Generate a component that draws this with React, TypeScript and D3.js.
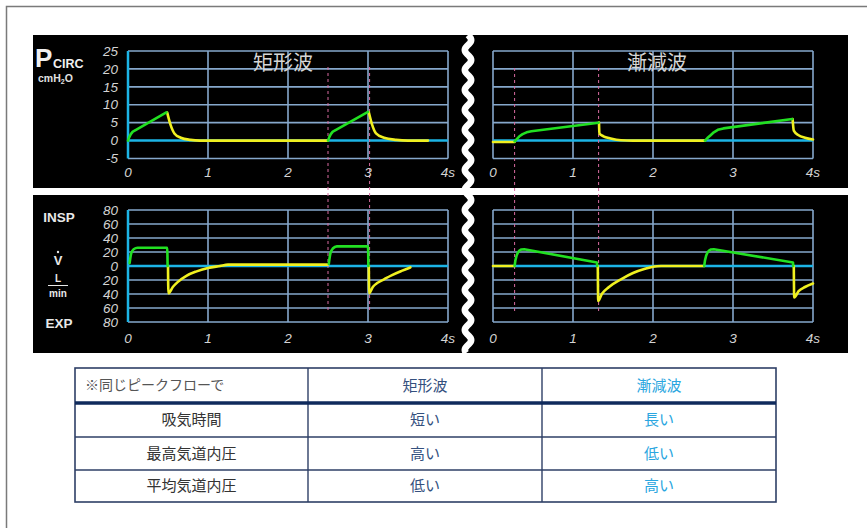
import React from "react";
import * as d3 from "d3";

// ---- data ----
const timeTicks = [0, 1, 2, 3, 4];
const timeTickLabels = ["0", "1", "2", "3", "4s"];
const pressureTicks = [25, 20, 15, 10, 5, 0, -5];
const flowTicks = [80, 60, 40, 20, 0, -20, -40, -60, -80];
const flowTickLabels = ["80", "60", "40", "20", "0", "20", "40", "60", "80"];

const panelTitles = ["矩形波", "漸減波"];
const flowSideLabels = ["INSP", "EXP"];

// 矩形波 (square wave) – pressure
const squarePressureInsp1: [number, number][] = [[0, 0], [0.015, 0.9], [0.035, 1.8], [0.06, 2.5], [0.1, 3], [0.48, 7.9]];
const squarePressureExp1: [number, number][] = [[0.49, 7.8], [0.53, 4.5], [0.58, 2], [0.66, 0.8], [0.78, 0.2], [0.9, 0], [2.5, 0]];
const squarePressureInsp2: [number, number][] = [[2.5, 0], [2.515, 0.9], [2.535, 1.8], [2.56, 2.5], [2.6, 3], [3.0, 8]];
const squarePressureExp2: [number, number][] = [[3.01, 7.9], [3.05, 4.5], [3.1, 2], [3.2, 0.8], [3.35, 0.2], [3.5, 0], [3.75, 0]];
// 矩形波 – flow
const squareFlowInsp1: [number, number][] = [[0.02, 4], [0.04, 18], [0.07, 24], [0.12, 26], [0.49, 26], [0.495, 0]];
const squareFlowExp1: [number, number][] = [[0.5, 0], [0.505, -39], [0.56, -30], [0.62, -23], [0.73, -14], [0.85, -8], [1.0, -3], [1.15, 0], [1.25, 2], [2.5, 2]];
const squareFlowInsp2: [number, number][] = [[2.51, 3], [2.53, 18], [2.56, 25], [2.61, 28], [3.0, 28], [3.005, 0]];
const squareFlowExp2: [number, number][] = [[3.01, 0], [3.015, -39], [3.06, -30], [3.12, -24], [3.2, -19], [3.3, -13], [3.42, -7], [3.53, -2]];

// 漸減波 (decelerating wave) – pressure
const decelPressureBase: [number, number][] = [[0, -0.4], [0.27, -0.4]];
const decelPressureInsp1: [number, number][] = [[0.27, -0.2], [0.3, 0.5], [0.33, 1.2], [0.37, 1.8], [0.42, 2.3], [0.48, 2.6], [1.32, 5]];
const decelPressureExp1: [number, number][] = [[1.325, 5], [1.33, 2], [1.38, 1.2], [1.47, 0.6], [1.6, 0.1], [1.75, 0], [2.65, 0]];
const decelPressureInsp2: [number, number][] = [[2.65, 0], [2.68, 0.7], [2.72, 1.5], [2.76, 2.3], [2.81, 3], [2.88, 3.4], [3.74, 6]];
const decelPressureExp2: [number, number][] = [[3.745, 6], [3.76, 2.8], [3.82, 1.5], [3.9, 0.8], [4.0, 0.3]];
// 漸減波 – flow
const decelFlowBase: [number, number][] = [[0, 0], [0.27, 0]];
const decelFlowInsp1: [number, number][] = [[0.27, 0], [0.28, 8], [0.295, 15], [0.31, 19], [0.33, 22], [0.355, 23.6], [0.39, 24], [1.3, 5], [1.302, 0]];
const decelFlowExp1: [number, number][] = [[1.31, 0], [1.315, -50], [1.36, -40], [1.45, -30], [1.6, -19], [1.75, -10], [1.9, -4], [2.0, -1], [2.1, 0], [2.64, 0]];
const decelFlowInsp2: [number, number][] = [[2.64, 0], [2.65, 8], [2.665, 15], [2.68, 19], [2.7, 22], [2.725, 23.6], [2.76, 24], [3.75, 5], [3.752, 0]];
const decelFlowExp2: [number, number][] = [[3.76, 0], [3.765, -45], [3.82, -36], [3.9, -30], [4.0, -25]];

const squareMarkers = [2.5, 3.02];
const decelMarkers = [0.27, 1.32];

const tableHeader = ["※同じピークフローで", "矩形波", "漸減波"];
const tableRowLabels = ["吸気時間", "最高気道内圧", "平均気道内圧"];
const tableSquare = ["短い", "高い", "低い"];
const tableDecel = ["長い", "低い", "高い"];

// ---- style ----
const GREEN = "#22e022";
const YELLOW = "#f0f020";
const CYAN = "#1cb4e6";
const GRID = "#86a8cc";
const TICK = "#d4d4d4";
const PINK = "#d86aa0";
const FONT = "'Liberation Sans', Arial, sans-serif";
const JP = "'Noto Sans CJK JP', sans-serif";

const xLeft = d3.scaleLinear().domain([0, 4]).range([128, 448]);
const xRight = d3.scaleLinear().domain([0, 4]).range([493, 813]);
const yP = d3.scaleLinear().domain([-5, 25]).range([158.5, 51]);
const yF = d3.scaleLinear().domain([-80, 80]).range([322, 210]);

function Trace({ data, x, y, color, linear }: { data: [number, number][]; x: any; y: any; color: string; linear?: boolean }) {
  const line = d3
    .line<[number, number]>()
    .x((d) => x(d[0]))
    .y((d) => y(d[1]))
    .curve(linear ? d3.curveLinear : d3.curveMonotoneX);
  return <path d={line(data) || ""} fill="none" stroke={color} strokeWidth={2.6} strokeLinejoin="round" strokeLinecap="round" />;
}

function Grid({ x, y, yTicks, leftCyan }: { x: any; y: any; yTicks: number[]; leftCyan: boolean }) {
  const [y0, y1] = [y(d3.min(yTicks) as number), y(d3.max(yTicks) as number)];
  return (
    <g>
      {yTicks.filter((v) => v !== 0).map((v) => (
        <line key={"h" + v} x1={x(0)} x2={x(4)} y1={y(v)} y2={y(v)} stroke={GRID} strokeWidth={1.6} />
      ))}
      {timeTicks.map((t) => (
        <line key={"v" + t} x1={x(t)} x2={x(t)} y1={y0} y2={y1} stroke={t === 0 && leftCyan ? CYAN : GRID} strokeWidth={t === 0 && leftCyan ? 2.5 : 1.6} />
      ))}
      <line x1={x(0)} x2={x(4)} y1={y(0)} y2={y(0)} stroke={CYAN} strokeWidth={2.5} />
    </g>
  );
}

function XLabels({ x, yPos }: { x: any; yPos: number }) {
  return (
    <g>
      {timeTicks.map((t, i) => (
        <text key={t} x={x(t)} y={yPos} textAnchor="middle" fontFamily={FONT} fontStyle="italic" fontSize={13.5} fill={TICK}>
          {timeTickLabels[i]}
        </text>
      ))}
    </g>
  );
}

export default function App() {
  const wave = d3.range(35, 354, 1).map((yy) => [468 + 3.2 * Math.sin(((yy - 35) / 20) * 2 * Math.PI), yy] as [number, number]);
  const wavePath = d3.line()(wave) || "";

  const colX = [75, 308, 542, 776];
  const rowY = [368, 403, 437, 470, 502];
  const colCenter = (i: number) => (colX[i] + colX[i + 1]) / 2;
  const rowCenter = (i: number) => (rowY[i] + rowY[i + 1]) / 2;

  return (
    <svg width={867} height={528} style={{ position: "absolute", left: 0, top: 0, background: "#fff" }}>
      <rect x={0} y={0} width={867} height={528} fill="#fff" />
      <path d="M6.5,528 L6.5,6.5 L867,6.5" fill="none" stroke="#7a7a7a" strokeWidth={1.5} />

      {/* black panels */}
      <rect x={33} y={35} width={815} height={318} fill="#000" />
      <rect x={33} y={188} width={815} height={7} fill="#fff" />
      <path d={wavePath} fill="none" stroke="#fff" strokeWidth={6.5} />

      {/* grids */}
      <Grid x={xLeft} y={yP} yTicks={pressureTicks} leftCyan={true} />
      <Grid x={xRight} y={yP} yTicks={pressureTicks} leftCyan={false} />
      <Grid x={xLeft} y={yF} yTicks={flowTicks} leftCyan={true} />
      <Grid x={xRight} y={yF} yTicks={flowTicks} leftCyan={false} />

      {/* pink markers */}
      {squareMarkers.map((t) => (
        <line key={"sm" + t} x1={xLeft(t)} x2={xLeft(t)} y1={67} y2={311} stroke={PINK} strokeWidth={1} strokeDasharray="3,3" />
      ))}
      {decelMarkers.map((t) => (
        <line key={"dm" + t} x1={xRight(t)} x2={xRight(t)} y1={68} y2={312} stroke={PINK} strokeWidth={1} strokeDasharray="3,3" />
      ))}

      {/* titles */}
      <text x={283} y={70} textAnchor="middle" fontFamily={JP} fontSize={20} fill="#d6d6d6">{panelTitles[0]}</text>
      <text x={657} y={70} textAnchor="middle" fontFamily={JP} fontSize={20} fill="#d6d6d6">{panelTitles[1]}</text>

      {/* axis labels */}
      {pressureTicks.map((v) => (
        <text key={"pt" + v} x={118} y={yP(v)} dy="0.35em" textAnchor="end" fontFamily={FONT} fontStyle="italic" fontSize={13.5} fill={TICK}>
          {v}
        </text>
      ))}
      {flowTicks.map((v, i) => (
        <text key={"ft" + v} x={118} y={yF(v)} dy="0.35em" textAnchor="end" fontFamily={FONT} fontStyle="italic" fontSize={13.5} fill={TICK}>
          {flowTickLabels[i]}
        </text>
      ))}
      <XLabels x={xLeft} yPos={177} />
      <XLabels x={xRight} yPos={177} />
      <XLabels x={xLeft} yPos={343} />
      <XLabels x={xRight} yPos={343} />

      {/* left side labels */}
      <text x={35} y={67} fontFamily={FONT} fontWeight="bold" fontSize={26} fill="#f0f0f0">P</text>
      <text x={53} y={68} fontFamily={FONT} fontWeight="bold" fontSize={12.5} fill="#f0f0f0">CIRC</text>
      <text x={38} y={82} fontFamily={FONT} fontWeight="bold" fontSize={10.5} fill="#e0e0e0">
        cmH<tspan fontSize={7} dy={2}>2</tspan><tspan dy={-2}>O</tspan>
      </text>
      <text x={59} y={222} textAnchor="middle" fontFamily={FONT} fontWeight="bold" fontSize={13.5} fill="#e8e8e8">{flowSideLabels[0]}</text>
      <text x={59} y={328} textAnchor="middle" fontFamily={FONT} fontWeight="bold" fontSize={13.5} fill="#e8e8e8">{flowSideLabels[1]}</text>
      <text x={58} y={265} textAnchor="middle" fontFamily={FONT} fontWeight="bold" fontSize={13} fill="#e8e8e8">V</text>
      <circle cx={58} cy={252} r={1.2} fill="#e8e8e8" />
      <text x={58} y={282} textAnchor="middle" fontFamily={FONT} fontWeight="bold" fontSize={10} fill="#e8e8e8">L</text>
      <line x1={48} x2={68} y1={285.5} y2={285.5} stroke="#e8e8e8" strokeWidth={1} />
      <text x={58} y={297} textAnchor="middle" fontFamily={FONT} fontWeight="bold" fontSize={10} fill="#e8e8e8">min</text>

      {/* traces: square */}
      <Trace data={squarePressureExp1} x={xLeft} y={yP} color={YELLOW} />
      <Trace data={squarePressureExp2} x={xLeft} y={yP} color={YELLOW} />
      <Trace data={squarePressureInsp1} x={xLeft} y={yP} color={GREEN} linear />
      <Trace data={squarePressureInsp2} x={xLeft} y={yP} color={GREEN} linear />
      <Trace data={squareFlowExp1} x={xLeft} y={yF} color={YELLOW} />
      <Trace data={squareFlowExp2} x={xLeft} y={yF} color={YELLOW} />
      <Trace data={squareFlowInsp1} x={xLeft} y={yF} color={GREEN} />
      <Trace data={squareFlowInsp2} x={xLeft} y={yF} color={GREEN} />

      {/* traces: decelerating */}
      <Trace data={decelPressureBase} x={xRight} y={yP} color={YELLOW} />
      <Trace data={decelPressureExp1} x={xRight} y={yP} color={YELLOW} />
      <Trace data={decelPressureExp2} x={xRight} y={yP} color={YELLOW} />
      <Trace data={decelPressureInsp1} x={xRight} y={yP} color={GREEN} linear />
      <Trace data={decelPressureInsp2} x={xRight} y={yP} color={GREEN} linear />
      <Trace data={decelFlowBase} x={xRight} y={yF} color={YELLOW} />
      <Trace data={decelFlowExp1} x={xRight} y={yF} color={YELLOW} />
      <Trace data={decelFlowExp2} x={xRight} y={yF} color={YELLOW} />
      <Trace data={decelFlowInsp1} x={xRight} y={yF} color={GREEN} linear />
      <Trace data={decelFlowInsp2} x={xRight} y={yF} color={GREEN} linear />

      {/* table */}
      <g>
        <rect x={colX[0]} y={rowY[0]} width={colX[3] - colX[0]} height={rowY[4] - rowY[0]} fill="#fff" stroke="#2e3f66" strokeWidth={1.6} />
        {colX.slice(1, 3).map((cx) => (
          <line key={"c" + cx} x1={cx} x2={cx} y1={rowY[0]} y2={rowY[4]} stroke="#2e3f66" strokeWidth={1.4} />
        ))}
        <line x1={colX[0]} x2={colX[3]} y1={rowY[1]} y2={rowY[1]} stroke="#0f2a5c" strokeWidth={3.5} />
        {rowY.slice(2, 4).map((ry) => (
          <line key={"r" + ry} x1={colX[0]} x2={colX[3]} y1={ry} y2={ry} stroke="#2e3f66" strokeWidth={1.4} />
        ))}
        <text x={85} y={rowCenter(0)} dy="0.35em" fontFamily={JP} fontSize={14} fill="#555">{tableHeader[0]}</text>
        <text x={colCenter(1)} y={rowCenter(0)} dy="0.35em" textAnchor="middle" fontFamily={JP} fontSize={15} fill="#34507e">{tableHeader[1]}</text>
        <text x={colCenter(2)} y={rowCenter(0)} dy="0.35em" textAnchor="middle" fontFamily={JP} fontSize={15} fill="#2aa6e0">{tableHeader[2]}</text>
        {tableRowLabels.map((lab, i) => (
          <g key={lab}>
            <text x={colCenter(0)} y={rowCenter(i + 1)} dy="0.35em" textAnchor="middle" fontFamily={JP} fontSize={15} fill="#333">{lab}</text>
            <text x={colCenter(1)} y={rowCenter(i + 1)} dy="0.35em" textAnchor="middle" fontFamily={JP} fontSize={15} fill="#34507e">{tableSquare[i]}</text>
            <text x={colCenter(2)} y={rowCenter(i + 1)} dy="0.35em" textAnchor="middle" fontFamily={JP} fontSize={15} fill="#2aa6e0">{tableDecel[i]}</text>
          </g>
        ))}
      </g>
    </svg>
  );
}
